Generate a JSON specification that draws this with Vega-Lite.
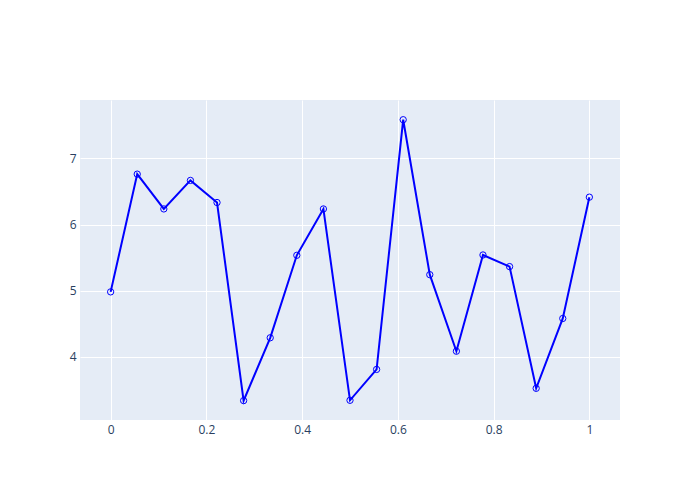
{
  "$schema": "https://vega.github.io/schema/vega-lite/v6.json",
  "width": 540,
  "height": 320,
  "autosize": {"type": "none"},
  "padding": {"left": 80, "top": 100, "right": 80, "bottom": 80},
  "background": "white",
  "config": {
    "view": {"fill": "#E5ECF6", "stroke": null},
    "font": "Open Sans",
    "axis": {
      "domain": false,
      "ticks": false,
      "grid": true,
      "gridColor": "white",
      "gridWidth": 1,
      "labelColor": "#2a3f5f",
      "labelFontSize": 12,
      "labelFont": "Open Sans",
      "title": null
    }
  },
  "data": {
    "values": [
      {"x": 0.0, "y": 4.982},
      {"x": 0.05556, "y": 6.762},
      {"x": 0.11111, "y": 6.236},
      {"x": 0.16667, "y": 6.667},
      {"x": 0.22222, "y": 6.333},
      {"x": 0.27778, "y": 3.338},
      {"x": 0.33333, "y": 4.288},
      {"x": 0.38889, "y": 5.535},
      {"x": 0.44444, "y": 6.236},
      {"x": 0.5, "y": 3.343},
      {"x": 0.55556, "y": 3.81},
      {"x": 0.61111, "y": 7.585},
      {"x": 0.66667, "y": 5.242},
      {"x": 0.72222, "y": 4.085},
      {"x": 0.77778, "y": 5.54},
      {"x": 0.83333, "y": 5.364},
      {"x": 0.88889, "y": 3.524},
      {"x": 0.94444, "y": 4.58},
      {"x": 1.0, "y": 6.414}
    ]
  },
  "encoding": {
    "x": {
      "field": "x",
      "type": "quantitative",
      "scale": {"domain": [-0.064, 1.064], "nice": false, "zero": false},
      "axis": {"values": [0, 0.2, 0.4, 0.6, 0.8, 1], "format": "~g", "labelPadding": 4}
    },
    "y": {
      "field": "y",
      "type": "quantitative",
      "scale": {"domain": [3.045, 7.883], "nice": false, "zero": false},
      "axis": {"values": [4, 5, 6, 7], "format": "~g", "labelPadding": 4}
    }
  },
  "layer": [
    {"mark": {"type": "line", "color": "#0000ff", "strokeWidth": 2}},
    {"mark": {"type": "point", "shape": "circle", "filled": false, "stroke": "#0000ff", "strokeWidth": 1, "size": 40, "opacity": 1}}
  ]
}
